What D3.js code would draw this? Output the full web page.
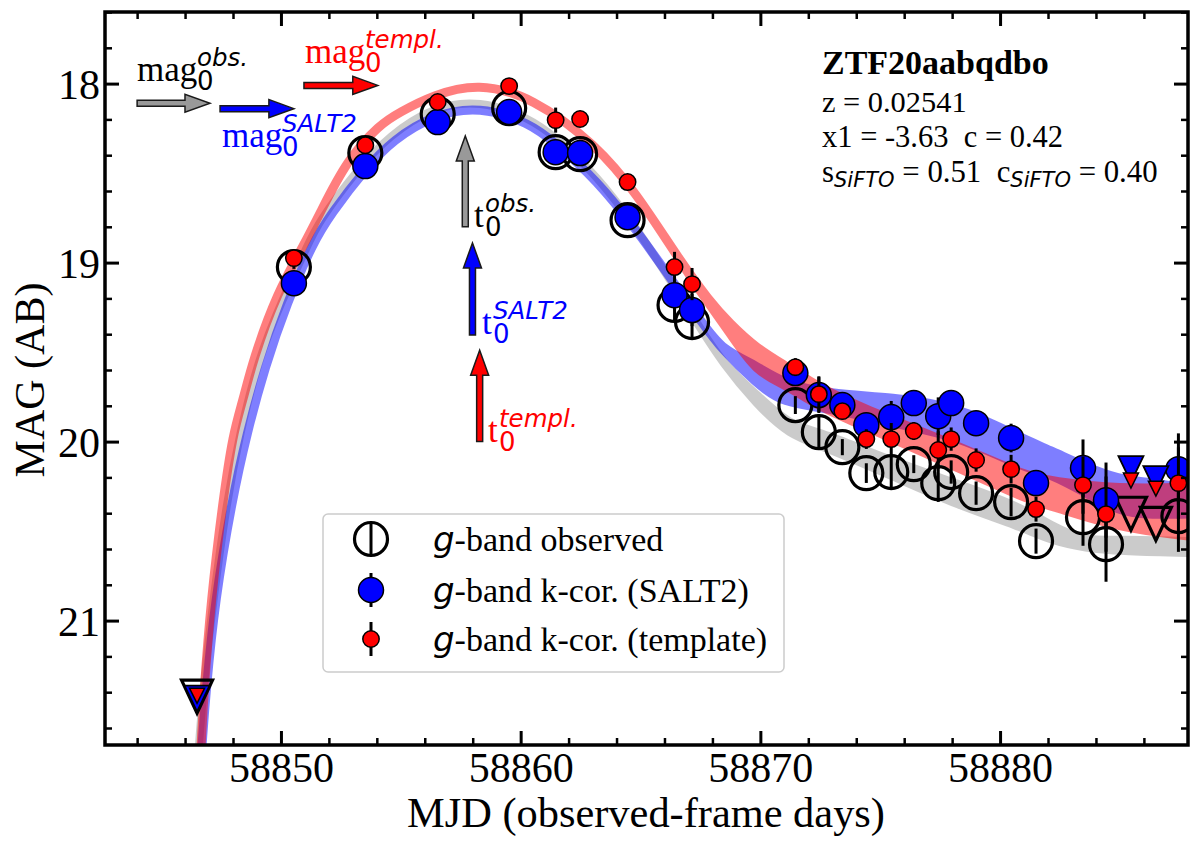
<!DOCTYPE html>
<html>
<head>
<meta charset="utf-8">
<script src="https://cdn.jsdelivr.net/npm/d3@7"></script>
<style>
  html, body { margin: 0; background: #fff; }
  text { font-family: "Liberation Serif", serif; }
  .math { font-family: "DejaVu Sans", sans-serif; font-style: italic; }
  .upright { font-family: "DejaVu Sans", sans-serif; }
</style>
</head>
<body>
<svg id="chart" width="1200" height="849"></svg>
<script>
// photometry, same epochs for the three sets of points
var days = [58850.54, 58853.52, 58856.54, 58859.52, 58861.46, 58862.48, 58864.46, 58866.42, 58867.15,
	58871.46, 58872.44, 58873.42, 58874.42, 58875.46, 58876.40, 58877.42, 58877.96, 58879.0,
	58880.46, 58881.5, 58883.46, 58884.42, 58887.44];
var obsMag = [19.025, 18.388, 18.17, 18.137, 18.383, 18.394, 18.763, 19.237, 19.332,
	19.796, 19.947, 20.031, 20.176, 20.170, 20.126, 20.232, 20.170, 20.288,
	20.338, 20.556, 20.422, 20.573, 20.416];
var saltMag = [19.115, 18.461, 18.215, 18.159, 18.383, 18.388, 18.746, 19.182, 19.265,
	19.617, 19.74, 19.796, 19.908, 19.863, 19.785, 19.858, 19.785, 19.897,
	19.98, 20.232, 20.148, 20.327, 20.154];
var templMag = [18.975, 18.344, 18.103, 18.014, 18.204, 18.198, 18.55, 19.025, 19.12,
	19.584, 19.735, 19.83, 19.986, 19.986, 19.941, 20.047, 19.986, 20.103,
	20.154, 20.377, 20.243, 20.405, 20.232];
var magErr = [0.01, 0.01, 0.01, 0.01, 0.07, 0.012, 0.02, 0.085, 0.09,
	0.05, 0.1, 0.045, 0.055, 0.09, 0.05, 0.105, 0.065, 0.065,
	0.08, 0.07, 0.16, 0.21, 0.2];

// upper limits
var limitDays = [58846.5, 58885.46, 58886.5];
var obsLimit = [21.425, 20.403, 20.46];
var saltLimit = [21.436, 20.154, 20.21];
var templLimit = [21.42, 20.218, 20.263];

// fitted bands: top and bottom edge
var grayDays = [58846.58, 58846.75, 58847.17, 58847.75, 58848.29, 58849.04, 58850.04, 58851.125, 58851.54, 58853.17, 58854.54, 58856.33, 58858.29, 58860.38, 58861.46, 58863.17, 58864.83, 58865.92, 58867.46, 58868.42, 58869.83, 58871.21, 58872.58, 58875.5, 58878.29, 58880.79, 58882.17, 58883.58, 58884.96, 58887.88];
var grayTop = [21.695, 21.39, 20.885, 20.327, 19.953, 19.545, 19.21, 18.902, 18.779, 18.483, 18.288, 18.131, 18.09, 18.193, 18.299, 18.511, 18.807, 19.031, 19.36, 19.561, 19.735, 19.908, 19.947, 20.109, 20.237, 20.36, 20.472, 20.556, 20.545, 20.556];
var grayBottom = [21.695, 21.39, 20.885, 20.327, 19.953, 19.545, 19.21, 18.902, 18.779, 18.483, 18.288, 18.131, 18.09, 18.193, 18.299, 18.511, 18.807, 19.031, 19.36, 19.561, 19.791, 19.964, 20.025, 20.193, 20.36, 20.472, 20.556, 20.595, 20.612, 20.623];

var saltDays = [58846.71, 58846.875, 58847.25, 58847.96, 58848.58, 58849.33, 58850.25, 58851.33, 58852.04, 58853.58, 58854.67, 58856.33, 58858.29, 58860.38, 58861.46, 58863.17, 58864.83, 58865.92, 58867.58, 58868.42, 58869.83, 58870.92, 58872.88, 58875.5, 58878.29, 58880.79, 58882.17, 58883.58, 58884.96, 58886.08, 58887.88];
var saltTop = [21.695, 21.39, 20.885, 20.327, 19.953, 19.584, 19.226, 18.891, 18.735, 18.466, 18.316, 18.176, 18.125, 18.22, 18.332, 18.539, 18.818, 19.025, 19.338, 19.489, 19.573, 19.673, 19.735, 19.751, 19.807, 19.975, 20.053, 20.142, 20.21, 20.226, 20.26];
var saltBottom = [21.695, 21.39, 20.885, 20.327, 19.953, 19.584, 19.226, 18.891, 18.735, 18.466, 18.316, 18.176, 18.125, 18.22, 18.332, 18.539, 18.818, 19.025, 19.338, 19.489, 19.673, 19.785, 19.813, 19.897, 19.969, 20.137, 20.182, 20.288, 20.388, 20.408, 20.405];

var templDays = [58846.67, 58846.79, 58847.08, 58847.58, 58848, 58848.42, 58848.83, 58849.83, 58851, 58851.63, 58852.75, 58854.13, 58854.96, 58856.33, 58858.21, 58860.5, 58863.17, 58864.83, 58866.63, 58867.88, 58868.71, 58869.83, 58871.08, 58872.58, 58874.13, 58878.29, 58881.08, 58882.17, 58884.96, 58887.88];
var templTop = [21.695, 21.39, 20.885, 20.327, 19.953, 19.768, 19.545, 19.17, 18.891, 18.723, 18.427, 18.226, 18.16, 18.064, 17.995, 18.075, 18.344, 18.612, 18.986, 19.215, 19.338, 19.478, 19.578, 19.707, 19.807, 20.025, 20.193, 20.221, 20.265, 20.254];
var templBottom = [21.695, 21.39, 20.885, 20.327, 19.953, 19.768, 19.545, 19.17, 18.891, 18.723, 18.427, 18.226, 18.16, 18.064, 17.995, 18.075, 18.344, 18.612, 18.986, 19.237, 19.388, 19.612, 19.684, 19.813, 19.902, 20.148, 20.321, 20.36, 20.483, 20.528];

// peak markers
var peakDays = [58857.69, 58857.99, 58858.29];
var peakFrom = [18.80, 19.405, 20.0];
var peakTo = [18.293, 18.89, 19.49];
var peakMags = [18.11, 18.14, 18.01];
var peakMagFrom = [58844.0, 58847.46, 58850.96];
var peakMagTo = [58847.04, 58850.54, 58854.04];
var peakColors = ["#999999", "#0000ff", "#ff0000"];

var xMajor = [58850, 58860, 58870, 58880];
var xMinor = d3.range(58844, 58888, 2).filter(function (d) { return xMajor.indexOf(d) < 0; });
var yMajor = [18, 19, 20, 21];
var yMinor = d3.range(17.6, 21.7, 0.2).map(function (d) { return +d.toFixed(1); }).filter(function (d) { return yMajor.indexOf(d) < 0; });

var legendLabels = ["-band observed", "-band k-cor. (SALT2)", "-band k-cor. (template)"];

var margin = { top: 12, right: 12, bottom: 104, left: 105 },
	width = 1200 - margin.left - margin.right,
	height = 849 - margin.top - margin.bottom;

var x = d3.scaleLinear().domain([58842.66, 58887.84]).range([0, width]);
var y = d3.scaleLinear().domain([17.6, 21.695]).range([0, height]);

var svg = d3.select("#chart");
var g = svg.append("g").attr("transform", "translate(" + margin.left + "," + margin.top + ")");

svg.append("defs").append("clipPath").attr("id", "plot")
	.append("rect").attr("width", width).attr("height", height);

var plot = g.append("g").attr("clip-path", "url(#plot)");

// bands: stroke gives the width on the steep part, fill the spread at late times
function band(days, top, bottom, color, alpha, sw) {
	var area = d3.area()
		.x(function (d) { return x(days[d]); })
		.y0(function (d) { return y(top[d]); })
		.y1(function (d) { return y(bottom[d]); })
		.curve(d3.curveBasis);
	plot.append("g").attr("opacity", alpha)
		.append("path")
		.attr("d", area(d3.range(days.length)))
		.attr("fill", color)
		.attr("stroke", color)
		.attr("stroke-width", sw)
		.attr("stroke-linejoin", "round");
}
band(grayDays, grayTop, grayBottom, "#000000", 0.2, 8);
band(saltDays, saltTop, saltBottom, "#0000ff", 0.5, 9);
band(templDays, templTop, templBottom, "#ff0000", 0.5, 9);

function errorBars(mags) {
	plot.append("g").selectAll("line").data(days).join("line")
		.attr("x1", function (d) { return x(d); })
		.attr("x2", function (d) { return x(d); })
		.attr("y1", function (d, i) { return y(mags[i] - magErr[i]); })
		.attr("y2", function (d, i) { return y(mags[i] + magErr[i]); })
		.attr("stroke", "#000")
		.attr("stroke-width", 3);
}

function dots(mags, r, fill, sw) {
	plot.append("g").selectAll("circle").data(days).join("circle")
		.attr("cx", function (d) { return x(d); })
		.attr("cy", function (d, i) { return y(mags[i]); })
		.attr("r", r)
		.attr("fill", fill)
		.attr("stroke", "#000")
		.attr("stroke-width", sw);
}

function limits(mags, w, h, fill, sw) {
	plot.append("g").selectAll("path").data(limitDays).join("path")
		.attr("d", "M" + (-w) + "," + (-h) + "L" + w + "," + (-h) + "L0," + h + "Z")
		.attr("transform", function (d, i) { return "translate(" + x(d) + "," + y(mags[i]) + ")"; })
		.attr("fill", fill)
		.attr("stroke", "#000")
		.attr("stroke-width", sw)
		.attr("stroke-linejoin", "miter");
}

errorBars(obsMag);
dots(obsMag, 16.5, "none", 3.2);
limits(obsLimit, 15.5, 16.5, "none", 3.2);
errorBars(saltMag);
dots(saltMag, 12.5, "#0000ff", 1.5);
limits(saltLimit, 12.5, 13, "#0000ff", 1.8);
errorBars(templMag);
dots(templMag, 8.2, "#ff0000", 1.5);
limits(templLimit, 7.5, 7.5, "#ff0000", 1.5);

// block arrows
function arrow(x0, y0, x1, y1, color) {
	var len = Math.sqrt((x1 - x0) * (x1 - x0) + (y1 - y0) * (y1 - y0));
	var a = Math.atan2(y1 - y0, x1 - x0) * 180 / Math.PI;
	g.append("path")
		.attr("d", "M0,-3L" + (len - 25) + ",-3L" + (len - 25) + ",-9L" + len + ",0L" + (len - 25) + ",9L" + (len - 25) + ",3L0,3Z")
		.attr("transform", "translate(" + x0 + "," + y0 + ") rotate(" + a + ")")
		.attr("fill", color)
		.attr("stroke", "#1a1a1a")
		.attr("stroke-width", 1.5);
}
peakDays.forEach(function (d, i) {
	arrow(x(d), y(peakFrom[i]), x(d), y(peakTo[i]), peakColors[i]);
});
peakMags.forEach(function (m, i) {
	arrow(x(peakMagFrom[i]), y(m), x(peakMagTo[i]), y(m), peakColors[i]);
});

// axes
function ticks(axis, values, size, sw, tx) {
	var sel = g.append("g").attr("transform", tx || null)
		.call(axis.tickValues(values).tickSizeInner(-size).tickSizeOuter(0));
	sel.select(".domain").remove();
	sel.selectAll("line").attr("stroke", "#000").attr("stroke-width", sw);
	return sel;
}
var bottomTx = "translate(0," + height + ")", rightTx = "translate(" + width + ",0)";
function fmt(d) { return d3.format("d")(d); }
function none() { return ""; }

var xa = ticks(d3.axisBottom(x).tickFormat(fmt).tickPadding(7), xMajor, 14, 3, bottomTx);
var ya = ticks(d3.axisLeft(y).tickFormat(fmt).tickPadding(5), yMajor, 14, 3);
ticks(d3.axisBottom(x).tickFormat(none), xMinor, 7, 2.5, bottomTx);
ticks(d3.axisLeft(y).tickFormat(none), yMinor, 7, 2.5);
ticks(d3.axisTop(x).tickFormat(none), xMajor, 14, 3);
ticks(d3.axisTop(x).tickFormat(none), xMinor, 7, 2.5);
ticks(d3.axisRight(y).tickFormat(none), yMajor, 14, 3, rightTx);
ticks(d3.axisRight(y).tickFormat(none), yMinor, 7, 2.5, rightTx);
g.selectAll("g.tick text").style("font-family", '"Liberation Serif", serif').style("font-size", "42px").attr("fill", "#000");
ya.selectAll("text").attr("dy", "0.36em");

g.append("rect")
	.attr("width", width).attr("height", height)
	.attr("fill", "none").attr("stroke", "#000").attr("stroke-width", 3.5);

svg.append("text").attr("x", 646).attr("y", 827).attr("text-anchor", "middle")
	.style("font-size", "42.4px").text("MJD (observed-frame days)");
svg.append("text").attr("transform", "translate(43.5,380) rotate(-90)").attr("text-anchor", "middle")
	.style("font-size", "42px").text("MAG (AB)");

// mathtext style labels
function scripted(px, py, base, sup, baseW, color) {
	svg.append("text").attr("x", px).attr("y", py).attr("fill", color).style("font-size", "35px").text(base);
	svg.append("text").attr("class", "upright").attr("x", px + baseW).attr("y", py + 9).attr("fill", color).style("font-size", "26px").text("0");
	svg.append("text").attr("class", "math").attr("x", px + baseW).attr("y", py - 15).attr("fill", color).style("font-size", "24.5px").text(sup);
}
scripted(137, 81, "mag", "obs.", 60, "#000");
scripted(305, 63, "mag", "templ.", 60, "#ff0000");
scripted(222, 147, "mag", "SALT2", 60, "#0000ff");
scripted(474, 227, "t", "obs.", 11, "#000");
scripted(482, 334, "t", "SALT2", 11, "#0000ff");
scripted(488, 442, "t", "templ.", 11, "#ff0000");

// info block
svg.append("text").attr("x", 822).attr("y", 74).style("font-size", "34px").style("font-weight", "bold").text("ZTF20aabqdbo");
svg.append("text").attr("x", 822).attr("y", 112).style("font-size", "30.4px").text("z = 0.02541");
svg.append("text").attr("x", 822).attr("y", 147).style("font-size", "30.5px").attr("xml:space", "preserve").text("x1 = -3.63  c = 0.42");
var info = svg.append("text").attr("x", 822).attr("y", 182).style("font-size", "30.8px").attr("xml:space", "preserve");
info.append("tspan").text("s");
info.append("tspan").attr("class", "math").attr("dy", 5).style("font-size", "21px").text("SiFTO");
info.append("tspan").attr("dy", -5).text(" = 0.51  c");
info.append("tspan").attr("class", "math").attr("dy", 5).style("font-size", "21px").text("SiFTO");
info.append("tspan").attr("dy", -5).text(" = 0.40");

// legend
svg.append("rect").attr("x", 323).attr("y", 514).attr("width", 461).attr("height", 158).attr("rx", 5)
	.attr("fill", "#fff").attr("fill-opacity", 0.8).attr("stroke", "#cccccc").attr("stroke-width", 1.5);
var legendY = [539, 590, 639], legendR = [16.5, 12.5, 8.2], legendFill = ["none", "#0000ff", "#ff0000"], legendSw = [3.2, 1.5, 1.5];
legendLabels.forEach(function (label, i) {
	svg.append("line").attr("x1", 371).attr("x2", 371).attr("y1", legendY[i] - 17).attr("y2", legendY[i] + 17)
		.attr("stroke", "#000").attr("stroke-width", 3);
	svg.append("circle").attr("cx", 371).attr("cy", legendY[i]).attr("r", legendR[i])
		.attr("fill", legendFill[i]).attr("stroke", "#000").attr("stroke-width", legendSw[i]);
	var t = svg.append("text").attr("x", 433).attr("y", legendY[i] + 11.5).style("font-size", "34px");
	t.append("tspan").attr("class", "math").text("g");
	t.append("tspan").text(label);
});
</script>
</body>
</html>
